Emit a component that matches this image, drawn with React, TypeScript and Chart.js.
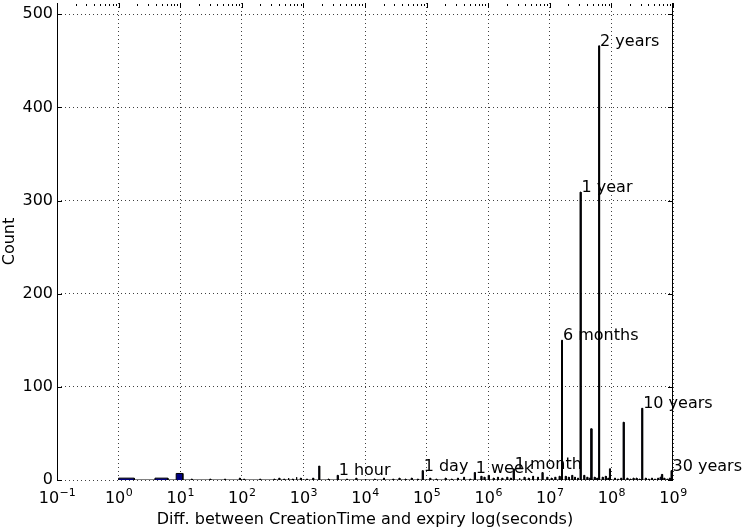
import React, { useEffect, useRef } from "react";
import { Chart, registerables } from "chart.js";

Chart.register(...registerables);

// Histogram bins: edges in log10(seconds), counts
const binLo = [
  0.0, 0.59, 0.935, 1.18, 1.48, 1.72, 1.96, 2.03, 2.29, 2.52, 2.6, 2.68, 2.75, 2.82, 2.88, 2.95,
  3.05, 3.15, 3.248, 3.4, 3.548, 3.7, 3.85, 4.0, 4.15, 4.3, 4.45, 4.55, 4.65, 4.75, 4.85, 4.928,
  5.05, 5.15, 5.3, 5.4, 5.5, 5.6, 5.7, 5.774, 5.88, 5.93, 6.0, 6.08, 6.15, 6.22, 6.3, 6.36, 6.405,
  6.5, 6.58, 6.65, 6.72, 6.8, 6.872, 6.95, 7.02, 7.08, 7.15, 7.19, 7.25, 7.3, 7.355, 7.4, 7.45,
  7.491, 7.55, 7.6, 7.64, 7.667, 7.72, 7.76, 7.792, 7.85, 7.9, 7.94, 7.968, 8.05, 8.1, 8.15, 8.19,
  8.25, 8.3, 8.35, 8.4, 8.45, 8.491, 8.55, 8.6, 8.65, 8.7, 8.75, 8.79, 8.815, 8.85, 8.9, 8.94, 8.968,
];
const binHi = [
  0.255, 0.8, 1.043, 1.196, 1.496, 1.736, 1.976, 2.046, 2.306, 2.536, 2.616, 2.696, 2.766, 2.836, 2.896, 2.966,
  3.066, 3.166, 3.264, 3.416, 3.564, 3.716, 3.866, 4.016, 4.166, 4.316, 4.466, 4.566, 4.666, 4.766, 4.866, 4.944,
  5.066, 5.166, 5.316, 5.416, 5.516, 5.616, 5.716, 5.79, 5.896, 5.946, 6.016, 6.096, 6.166, 6.236, 6.316, 6.376, 6.421,
  6.516, 6.596, 6.666, 6.736, 6.816, 6.888, 6.966, 7.036, 7.096, 7.166, 7.206, 7.266, 7.316, 7.371, 7.416, 7.466,
  7.507, 7.566, 7.616, 7.656, 7.683, 7.736, 7.776, 7.808, 7.866, 7.916, 7.956, 7.984, 8.066, 8.116, 8.166, 8.206,
  8.266, 8.316, 8.366, 8.416, 8.466, 8.507, 8.566, 8.616, 8.666, 8.716, 8.766, 8.806, 8.831, 8.866, 8.916, 8.956, 8.984,
];
const binCount = [
  2, 2, 7, 1, 1, 1, 2, 1, 1, 1, 2, 1, 2, 1, 3, 2,
  1, 2, 15, 1, 5, 1, 2, 1, 1, 2, 1, 2, 1, 2, 1, 10,
  2, 1, 2, 1, 2, 3, 1, 8, 4, 3, 5, 2, 3, 2, 3, 2, 12,
  2, 3, 2, 4, 3, 8, 3, 2, 3, 4, 150, 4, 3, 5, 3, 2,
  309, 5, 3, 2, 55, 3, 2, 466, 3, 4, 2, 12, 2, 1, 2, 62,
  2, 1, 2, 2, 1, 77, 2, 1, 2, 1, 2, 3, 6, 2, 1, 2, 10,
];

// Annotations
const labelText = ["1 hour", "1 day", "1 week", "1 month", "6 months", "1 year", "2 years", "10 years", "30 years"];
const labelSeconds = [3600, 86400, 604800, 2592000, 15768000, 31536000, 63072000, 315360000, 946080000];
const labelCount = [5, 10, 8, 12, 150, 309, 466, 77, 10];

// Axis ticks
const xDecades = [-1, 0, 1, 2, 3, 4, 5, 6, 7, 8, 9];
const yTicks = [0, 100, 200, 300, 400, 500];

const FONT = "'DejaVu Sans', sans-serif";

const framePlugin = {
  id: "frame",
  afterDatasetsDraw(chart: any) {
    const { ctx, chartArea: a, scales } = chart;
    const xs = scales.x, ys = scales.y;
    ctx.save();
    ctx.strokeStyle = "#000";
    ctx.lineWidth = 1;
    // spines
    ctx.beginPath();
    ctx.moveTo(Math.round(a.left) + 0.5, a.top);
    ctx.lineTo(Math.round(a.left) + 0.5, a.bottom);
    ctx.moveTo(Math.round(a.right) - 0.5, a.top);
    ctx.lineTo(Math.round(a.right) - 0.5, a.bottom);
    ctx.stroke();
    // y ticks both sides
    ctx.beginPath();
    yTicks.forEach((v) => {
      const y = Math.round(ys.getPixelForValue(v)) + 0.5;
      ctx.moveTo(a.left, y); ctx.lineTo(a.left + 5, y);
      ctx.moveTo(a.right, y); ctx.lineTo(a.right - 5, y);
    });
    // top ticks (major + minor)
    xDecades.forEach((d) => {
      const x = Math.round(xs.getPixelForValue(d)) + 0.5;
      ctx.moveTo(x, a.top); ctx.lineTo(x, a.top + 5);
      if (d < 9) {
        for (let k = 2; k <= 9; k++) {
          const xm = Math.round(xs.getPixelForValue(d + Math.log10(k))) + 0.5;
          ctx.moveTo(xm, a.top + 1); ctx.lineTo(xm, a.top + 3);
        }
      }
    });
    ctx.stroke();
    // annotations
    ctx.fillStyle = "#000";
    ctx.font = `16px ${FONT}`;
    ctx.textAlign = "left";
    ctx.textBaseline = "alphabetic";
    labelText.forEach((t, i) => {
      const x = xs.getPixelForValue(Math.log10(labelSeconds[i]));
      const y = ys.getPixelForValue(labelCount[i]);
      ctx.fillText(t, x + 1, y);
    });
    // x tick labels: 10^n with raised exponent
    const baseY = a.bottom + 23;
    xDecades.forEach((d) => {
      const px = xs.getPixelForValue(d);
      const base = "10";
      const exp = String(d).replace("-", "\u2212");
      ctx.font = `16px ${FONT}`;
      const wb = ctx.measureText(base).width;
      ctx.font = `11px ${FONT}`;
      const we = ctx.measureText(exp).width;
      const x0 = px - (wb + we) / 2;
      ctx.font = `16px ${FONT}`;
      ctx.fillText(base, x0, baseY);
      ctx.font = `11px ${FONT}`;
      ctx.fillText(exp, x0 + wb + 0.5, baseY - 7);
    });
    ctx.restore();
  },
};

const zeroPad = (s: any) => {
  s.paddingLeft = 0; s.paddingRight = 0; s.paddingTop = 0; s.paddingBottom = 0;
};

export default function App() {
  const ref = useRef<HTMLCanvasElement | null>(null);
  useEffect(() => {
    if (!ref.current) return;
    const pts: { x: number; y: number }[] = [];
    binLo.forEach((lo, i) => {
      pts.push({ x: lo, y: 0 }, { x: lo, y: binCount[i] }, { x: binHi[i], y: binCount[i] }, { x: binHi[i], y: 0 });
    });
    const chart = new Chart(ref.current, {
      type: "scatter",
      data: {
        datasets: [
          {
            data: pts,
            showLine: true,
            pointRadius: 0,
            borderColor: "#000",
            borderWidth: 1,
            backgroundColor: "#000080",
            fill: "origin",
            tension: 0,
          } as any,
        ],
      },
      options: {
        animation: false,
        responsive: false,
        devicePixelRatio: 1,
        layout: { padding: { left: 0, right: 70, top: 3, bottom: 0 } },
        plugins: { legend: { display: false }, tooltip: { enabled: false } },
        scales: {
          x: {
            type: "linear",
            min: -1,
            max: 9,
            afterBuildTicks: (s: any) => { s.ticks = xDecades.map((v) => ({ value: v })); },
            afterFit: (s: any) => { s.height = 52; zeroPad(s); },
            ticks: { display: false },
            grid: {
              drawTicks: false,
              color: "rgba(0,0,0,0.75)",
              lineWidth: 1,
            },
            border: { display: false, dash: [1, 3] },
            title: {
              display: true,
              text: "Diff. between CreationTime and expiry log(seconds)",
              color: "#000",
              font: { family: FONT, size: 16 },
              padding: { top: 0, bottom: 3 },
            },
          },
          y: {
            type: "linear",
            min: 0,
            max: 512,
            afterBuildTicks: (s: any) => { s.ticks = yTicks.map((v) => ({ value: v })); },
            afterFit: (s: any) => { s.width = 57; zeroPad(s); },
            ticks: {
              padding: 4,
              color: "#000",
              font: { family: FONT, size: 16 },
            },
            grid: {
              drawTicks: false,
              color: "rgba(0,0,0,0.75)",
              lineWidth: 1,
            },
            border: { display: false, dash: [1, 3] },
            title: {
              display: true,
              text: "Count",
              color: "#000",
              font: { family: FONT, size: 16 },
              padding: { top: 0, bottom: 0 },
            },
          },
        },
      },
      plugins: [framePlugin],
    });
    return () => chart.destroy();
  }, []);
  return (
    <div style={{ position: "fixed", left: 0, top: 0, width: 743, height: 532, background: "#fff" }}>
      <canvas ref={ref} width={743} height={532} style={{ display: "block" }} />
    </div>
  );
}
